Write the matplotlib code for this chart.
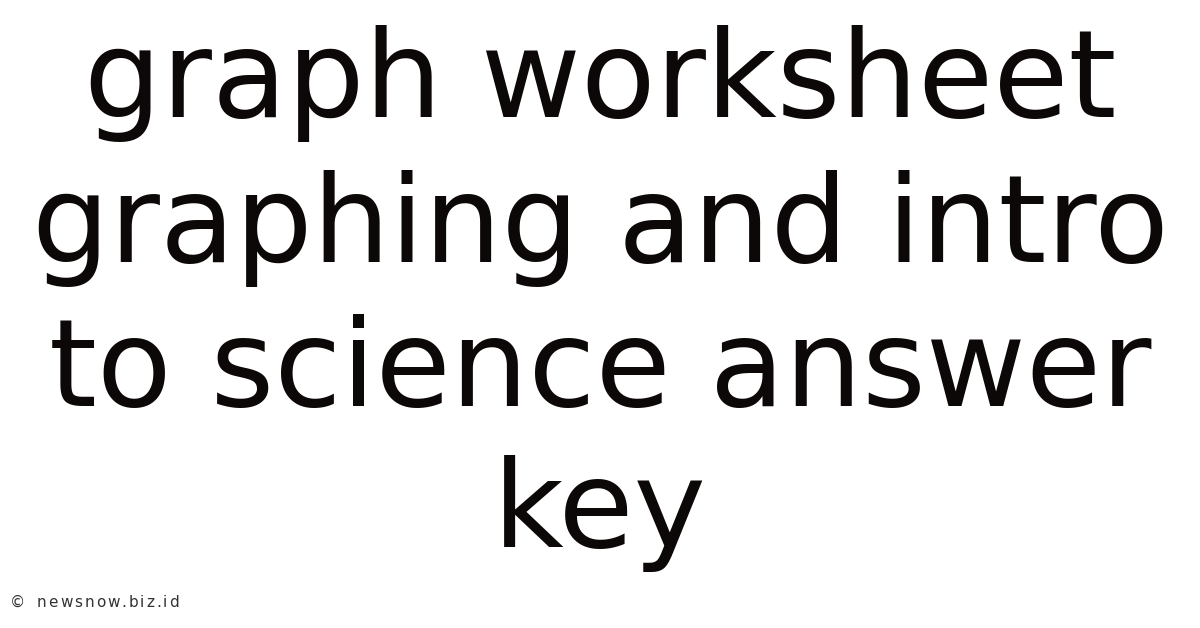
import matplotlib.pyplot as plt

# title lines as they appear in the picture
lines = ["graph worksheet", "graphing and intro", "to science answer", "key"]
watermark = "© newsnow.biz.id"

W, H = 1200, 628
fig = plt.figure(figsize=(W / 100, H / 100), dpi=100)
fig.patch.set_facecolor("white")

# baselines in pixels from the top
baselines = [117, 262, 406, 547]
for text, base in zip(lines, baselines):
    fig.text(0.5, 1 - base / H, text, ha="center", va="baseline",
             fontsize=88, color="#0d0808", family="DejaVu Sans")

# watermark is slightly letter-spaced, so place the characters one by one
renderer = fig.canvas.get_renderer()
x = 10
tracking = 1.9
for ch in watermark:
    t = fig.text(x / W, 1 - 607 / H, ch, ha="left", va="baseline",
                 fontsize=11, color="#333333", family="DejaVu Sans")
    if ch == " ":
        x += 8 + tracking
    else:
        x += t.get_window_extent(renderer).width + tracking

plt.savefig("out.png", dpi=100)
